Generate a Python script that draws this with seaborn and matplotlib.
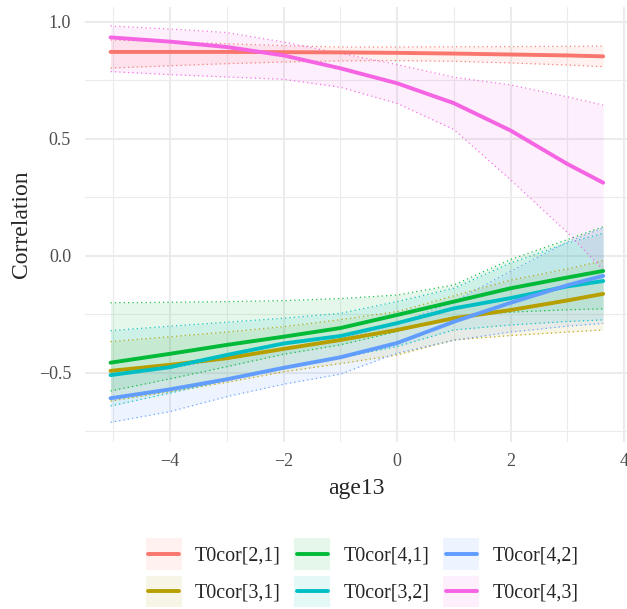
import numpy as np
import pandas as pd
import seaborn as sns
import matplotlib
matplotlib.use("Agg")
import matplotlib.pyplot as plt
from matplotlib.patches import Rectangle
from matplotlib.lines import Line2D
from matplotlib.legend_handler import HandlerBase

# Age grid (centred at 13) at which the correlations were evaluated
age13 = [-5.05, -4, -3, -2, -1, 0, 1, 2, 3, 3.63]

params = ["T0cor[2,1]", "T0cor[3,1]", "T0cor[4,1]", "T0cor[3,2]", "T0cor[4,2]", "T0cor[4,3]"]
colors = ["#F8766D", "#B79F00", "#00BA38", "#00BFC4", "#619CFF", "#F564E3"]

# Point estimates
est_21 = [0.872, 0.872, 0.872, 0.871, 0.870, 0.868, 0.865, 0.861, 0.857, 0.853]
est_31 = [-0.491, -0.465, -0.437, -0.397, -0.359, -0.316, -0.266, -0.231, -0.190, -0.162]
est_41 = [-0.456, -0.418, -0.380, -0.345, -0.308, -0.252, -0.195, -0.138, -0.092, -0.064]
est_32 = [-0.509, -0.475, -0.423, -0.374, -0.342, -0.287, -0.224, -0.180, -0.130, -0.107]
est_42 = [-0.608, -0.570, -0.527, -0.478, -0.433, -0.372, -0.281, -0.200, -0.125, -0.085]
est_43 = [0.934, 0.916, 0.893, 0.857, 0.802, 0.738, 0.653, 0.536, 0.393, 0.313]

# Lower interval bounds
lo_21 = [0.803, 0.813, 0.822, 0.829, 0.834, 0.835, 0.832, 0.825, 0.816, 0.809]
lo_31 = [-0.620, -0.580, -0.540, -0.495, -0.460, -0.423, -0.359, -0.340, -0.325, -0.316]
lo_41 = [-0.577, -0.525, -0.473, -0.420, -0.380, -0.323, -0.260, -0.240, -0.230, -0.226]
lo_32 = [-0.641, -0.586, -0.530, -0.478, -0.435, -0.387, -0.316, -0.295, -0.280, -0.273]
lo_42 = [-0.711, -0.665, -0.601, -0.548, -0.505, -0.415, -0.360, -0.325, -0.300, -0.288]
lo_43 = [0.788, 0.775, 0.765, 0.755, 0.721, 0.652, 0.540, 0.325, 0.100, -0.060]

# Upper interval bounds
hi_21 = [0.923, 0.915, 0.907, 0.899, 0.893, 0.893, 0.894, 0.895, 0.896, 0.897]
hi_31 = [-0.366, -0.345, -0.325, -0.302, -0.272, -0.238, -0.170, -0.103, -0.055, -0.020]
hi_41 = [-0.200, -0.198, -0.195, -0.191, -0.182, -0.167, -0.124, -0.015, 0.070, 0.125]
hi_32 = [-0.319, -0.300, -0.283, -0.266, -0.245, -0.195, -0.138, -0.030, 0.055, 0.097]
hi_42 = [-0.510, -0.480, -0.440, -0.400, -0.355, -0.290, -0.195, -0.065, 0.060, 0.120]
hi_43 = [0.983, 0.970, 0.955, 0.914, 0.866, 0.818, 0.764, 0.731, 0.680, 0.645]

ests = [est_21, est_31, est_41, est_32, est_42, est_43]
los = [lo_21, lo_31, lo_41, lo_32, lo_42, lo_43]
his = [hi_21, hi_31, hi_41, hi_32, hi_42, hi_43]

rows = []
for p, e, l, h in zip(params, ests, los, his):
    for a, ev, lv, hv in zip(age13, e, l, h):
        rows.append({"age13": a, "param": p, "est": ev, "lo": lv, "hi": hv})
df = pd.DataFrame(rows)

sns.set_style("white")
plt.rcParams["font.family"] = ["Liberation Serif", "DejaVu Serif"]

W, H = 627, 609
fig = plt.figure(figsize=(W / 100, H / 100), dpi=100)
ax = fig.add_axes([85 / W, 1 - 442 / H, 542 / W, 435 / H])

# Grid in the minimal style: major and minor lines, no frame
for v in [-4, -2, 0, 2, 4]:
    ax.axvline(v, color="#EBEBEB", lw=1.5, zorder=0)
for v in [-5, -3, -1, 1, 3]:
    ax.axvline(v, color="#EBEBEB", lw=0.8, zorder=0)
for v in [-0.5, 0, 0.5, 1.0]:
    ax.axhline(v, color="#EBEBEB", lw=1.5, zorder=0)
for v in [-0.75, -0.25, 0.25, 0.75]:
    ax.axhline(v, color="#EBEBEB", lw=0.8, zorder=0)

# Interval ribbons with dotted edges
for p, c in zip(params, colors):
    d = df[df["param"] == p]
    ax.fill_between(d["age13"], d["lo"], d["hi"], color=c, alpha=0.1, lw=0, zorder=1)
    ax.plot(d["age13"], d["lo"], color=c, ls=(0, (1, 2.5)), lw=0.9, alpha=0.9, zorder=1.5)
    ax.plot(d["age13"], d["hi"], color=c, ls=(0, (1, 2.5)), lw=0.9, alpha=0.9, zorder=1.5)

sns.lineplot(data=df, x="age13", y="est", hue="param", hue_order=params,
             palette=colors, lw=2.8, legend=False, ax=ax, zorder=2, sort=False)

ax.set_xlim(-5.50, 4.05)
ax.set_ylim(-0.795, 1.064)
ax.set_xticks([-4, -2, 0, 2, 4])
ax.set_xticklabels(["\u22124", "\u22122", "0", "2", "4"])
ax.set_yticks([-0.5, 0.0, 0.5, 1.0])
ax.set_yticklabels(["\u22120.5", "0.0", "0.5", "1.0"])
ax.tick_params(axis="both", length=0, labelsize=13, labelcolor="#4D4D4D")
ax.tick_params(axis="x", pad=8)
ax.tick_params(axis="y", pad=10)
for s in ax.spines.values():
    s.set_visible(False)
ax.set_xlabel("age13", fontsize=17, labelpad=6)
ax.set_ylabel("Correlation", fontsize=17, labelpad=5)


class RibbonKey(HandlerBase):
    """Legend key: a pale filled square with the series line across its middle."""

    def create_artists(self, legend, orig_handle, xdescent, ydescent,
                       width, height, fontsize, trans):
        c = orig_handle.get_color()
        box = Rectangle((-xdescent, -ydescent), width, height,
                        facecolor=c, alpha=0.1, edgecolor="none", transform=trans)
        ymid = -ydescent + height / 2
        pad = width * 0.08
        line = Line2D([-xdescent + pad, -xdescent + width - pad], [ymid, ymid],
                      color=c, lw=2.8, transform=trans)
        return [box, line]


handles = [Line2D([], [], color=c) for c in colors]
fig.legend(handles, params, loc="upper center", bbox_to_anchor=(362 / W, 1 - 538 / H),
           ncol=3, frameon=False, fontsize=14.4, handlelength=1.8, handleheight=2.05,
           labelspacing=0.3, handletextpad=0.65, columnspacing=0.7, borderpad=0,
           borderaxespad=0, handler_map={Line2D: RibbonKey()})

fig.savefig("out.png", dpi=100)
